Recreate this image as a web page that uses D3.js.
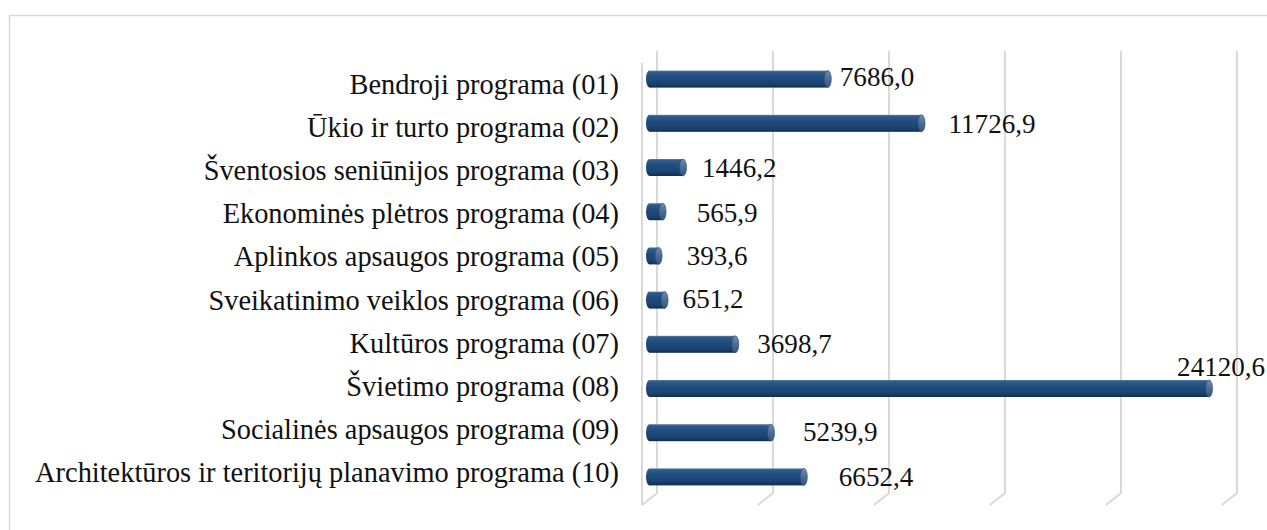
<!DOCTYPE html>
<html>
<head>
<meta charset="utf-8">
<script src="https://cdn.jsdelivr.net/npm/d3@7"></script>
<style>
  html, body { margin: 0; padding: 0; background: #fff; }
  svg { display: block; }
  .serif { font-family: "Liberation Serif", "DejaVu Serif", "Noto Serif", "Times New Roman", serif; }
</style>
</head>
<body>
<svg id="chart" width="1267" height="530"></svg>
<script>
// ---- data ----
const categories = [
  "Bendroji programa (01)",
  "Ūkio ir turto programa (02)",
  "Šventosios seniūnijos programa (03)",
  "Ekonominės plėtros programa (04)",
  "Aplinkos apsaugos programa (05)",
  "Sveikatinimo veiklos programa (06)",
  "Kultūros programa (07)",
  "Švietimo programa (08)",
  "Socialinės apsaugos programa (09)",
  "Architektūros ir teritorijų planavimo programa (10)"
];
const values = [7686.0, 11726.9, 1446.2, 565.9, 393.6, 651.2, 3698.7, 24120.6, 5239.9, 6652.4];
const axisMax = 25000;
const gridTicks = [0, 5000, 10000, 15000, 20000, 25000];

// ---- layout (label nudges relative to bar ends, px) ----
const labelDx = [12, 27, 19, 34, 28, 18, 22, -32, 32, 35];
const labelDy = [-2, 1, 0, 1, 0, -1, 0, -22, -1, 0];

const svg = d3.select("#chart");
const locale = d3.formatLocale({decimal: ",", thousands: "", grouping: [3], currency: ["", ""]});
const fmt = locale.format(".1f");

// 3D geometry: back wall and front plane
const depthX = -15, depthY = 12;
const backTop = 51, backBottom = 493;
const xBack = d3.scaleLinear().domain([0, axisMax]).range([657, 1237]);
const xMid = d3.scaleLinear().domain([0, axisMax]).range([657 + depthX / 2, 1237 + depthX / 2]);
const y = d3.scaleBand().domain(categories)
  .range([backTop + depthY / 2, backBottom + depthY / 2]).paddingInner(0).paddingOuter(0);
// category labels sit in perspective on the axis plane
const yLab = d3.scalePoint().domain(categories).range([85, 473]);

// chart border
svg.append("rect")
  .attr("x", 9.5).attr("y", 15.5).attr("width", 1290).attr("height", 540)
  .attr("fill", "none").attr("stroke", "#d9d9d9").attr("stroke-width", 1.5);

// gradients
const defs = svg.append("defs");
const g1 = defs.append("linearGradient").attr("id", "cyl").attr("x1", 0).attr("y1", 0).attr("x2", 0).attr("y2", 1);
[["0%", "#5a7ea6"], ["10%", "#2d5a8a"], ["40%", "#1f4c7c"], ["70%", "#1c4573"], ["88%", "#163a63"], ["100%", "#0f2c4e"]]
  .forEach(([o, c]) => g1.append("stop").attr("offset", o).attr("stop-color", c));
const g2 = defs.append("linearGradient").attr("id", "cap").attr("x1", 0).attr("y1", 0).attr("x2", 0).attr("y2", 1);
[["0%", "#6f8db0"], ["50%", "#4b6c93"], ["100%", "#34557d"]]
  .forEach(([o, c]) => g2.append("stop").attr("offset", o).attr("stop-color", c));

// gridlines on back wall + floor
const grid = svg.append("g").attr("fill", "none").attr("stroke", "#d9d9d9").attr("stroke-width", 2);
grid.selectAll("path.g").data(gridTicks).join("path")
  .attr("class", "g")
  .attr("d", d => `M${xBack(d)},${backTop}V${backBottom}L${xBack(d) + depthX},${backBottom + depthY}`);
// left wall front edge
grid.append("path")
  .attr("d", `M${xBack(0) + depthX},${backTop + depthY}V${backBottom + depthY}`);

// bars (cylinders)
const barH = 17;
const bars = svg.append("g");
values.forEach((v, i) => {
  const cy = y(categories[i]) + y.bandwidth() / 2;
  const x0 = xMid(0), x1 = xMid(v);
  const gb = bars.append("g");
  gb.append("ellipse").attr("cx", x0).attr("cy", cy).attr("rx", 3.5).attr("ry", barH / 2)
    .attr("fill", "url(#cyl)");
  gb.append("rect").attr("x", x0).attr("y", cy - barH / 2).attr("width", Math.max(0, x1 - x0)).attr("height", barH)
    .attr("fill", "url(#cyl)");
  gb.append("ellipse").attr("cx", x1).attr("cy", cy).attr("rx", 3.5).attr("ry", barH / 2)
    .attr("fill", "url(#cap)").attr("stroke", "#2f5078").attr("stroke-width", 0.6);
});

// category labels
const catText = svg.append("g").attr("class", "serif").selectAll("text").data(categories).join("text")
  .attr("x", 619)
  .attr("y", d => yLab(d) + 9)
  .attr("text-anchor", "end")
  .attr("font-size", 28)
  .attr("fill", "#111")
  .text(d => d);

// value labels
const valText = svg.append("g").attr("class", "serif").selectAll("text").data(values).join("text")
  .attr("x", (d, i) => xMid(d) + labelDx[i])
  .attr("y", (d, i) => y(categories[i]) + y.bandwidth() / 2 + 9 + labelDy[i])
  .attr("font-size", 27.5)
  .attr("fill", "#111")
  .text(d => fmt(d));

// fit font sizes to the reference's measured text widths
const longest = catText.nodes()[categories.length - 1].getComputedTextLength();
if (longest > 0) catText.attr("font-size", 28 * 584 / longest);
const bigVal = valText.nodes()[7].getComputedTextLength();
if (bigVal > 0) valText.attr("font-size", 27.5 * 88 / bigVal);
</script>
</body>
</html>
